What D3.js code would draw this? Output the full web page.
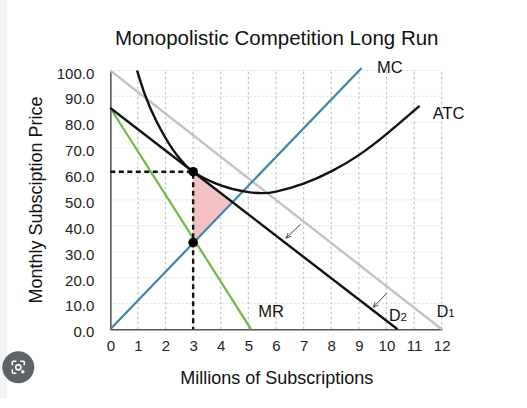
<!DOCTYPE html>
<html><head><meta charset="utf-8">
<script src="https://cdn.jsdelivr.net/npm/d3@7"></script>
<style>body{margin:0;background:#fff;} svg{display:block;font-family:"Liberation Sans",Arial,sans-serif;}</style>
</head><body>
<svg id="c" width="527" height="408"></svg>
<script>
// ---- data ----
const xTicks = [0,1,2,3,4,5,6,7,8,9,10,11,12];
const yTicks = [0,10,20,30,40,50,60,70,80,90,100];
const demand1 = [[0,100],[12,0]];
const demand2 = [[0,85.5],[10.4,0]];
const mr = [[0,85.5],[5.1,0]];
const mc = [[0,0],[9.1,101]];
const atc = [[0.97,100],[1.26,90.5],[1.68,80.2],[2.26,69.5],[2.64,64.4],[3,60.9],[4,55.6],[5,53],[5.5,52.6],[6,53.2],[7,56.3],[8,61],[9,67.3],[10,75.4],[11.2,86.3]];
const eqTop = [3,60.9];
const eqBottom = [3,33.5];
const arrows = [[[6.89,40.6],[6.36,35.2]],[[10.01,13.9],[9.52,8.5]]];
const title = "Monopolistic Competition Long Run";
const xTitle = "Millions of Subscriptions";
const yTitle = "Monthly Subsciption Price";

const svg = d3.select("#c");
const x = d3.scaleLinear().domain([0,12]).range([110.3,441.7]);
const y = d3.scaleLinear().domain([0,100]).range([329.3,70.5]);

// background strip & icon (screenshot chrome)
svg.append("rect").attr("x",0).attr("y",0).attr("width",7).attr("height",398).attr("fill","#f1f3f4");
const ic = svg.append("g").attr("transform","translate(18.3,367.3)");
ic.append("circle").attr("r",16).attr("fill","#5f6368");
ic.append("path").attr("d","M-6,-2 V-5 Q-6,-6 -5,-6 H-2 M2,-6 H5 Q6,-6 6,-5 V-2 M-6,2 V5 Q-6,6 -5,6 H-2")
  .attr("fill","none").attr("stroke","#fff").attr("stroke-width",1.6);
ic.append("circle").attr("r",2.6).attr("fill","none").attr("stroke","#fff").attr("stroke-width",1.6);
ic.append("circle").attr("cx",4.5).attr("cy",4.5).attr("r",1.8).attr("fill","#fff");

// grid
svg.append("g").selectAll("line").data(yTicks.filter(d=>d>0)).join("line")
  .attr("x1",x(0)).attr("x2",x(12)).attr("y1",d=>y(d)).attr("y2",d=>y(d))
  .attr("stroke","#dedede").attr("stroke-width",1).attr("stroke-dasharray","2,2");
svg.append("g").selectAll("line").data(xTicks.filter(d=>d>0)).join("line")
  .attr("x1",d=>x(d)).attr("x2",d=>x(d)).attr("y1",y(0)).attr("y2",y(100))
  .attr("stroke","#c4c4c4").attr("stroke-width",1.2).attr("stroke-dasharray","2.5,2.5");

// axes
const xAxis = d3.axisBottom(x).tickValues(xTicks).tickSize(0).tickPadding(11).tickFormat(d3.format("d"));
const gx = svg.append("g").attr("transform",`translate(0,${y(0)})`).call(xAxis);
gx.select(".domain").attr("stroke","#555").attr("stroke-width",1.6);
gx.selectAll("text").attr("font-size",15).attr("fill","#222").attr("font-family","Liberation Sans, Arial, sans-serif");
const yAxis = d3.axisLeft(y).tickValues(yTicks).tickSize(0).tickPadding(16).tickFormat(d3.format(".1f"));
const gy = svg.append("g").attr("transform",`translate(${x(0)},0)`).call(yAxis);
gy.select(".domain").attr("stroke","#555").attr("stroke-width",1.6);
gy.selectAll("text").attr("font-size",15).attr("fill","#222").attr("dy","0.5em").attr("font-family","Liberation Sans, Arial, sans-serif");

// shaded triangle: MC ∩ D2
const s2 = (demand2[1][1]-demand2[0][1])/(demand2[1][0]-demand2[0][0]);
const smc = (mc[1][1]-mc[0][1])/(mc[1][0]-mc[0][0]);
const qi = (demand2[0][1]-mc[0][1])/(smc - s2);
const tri = [eqTop, eqBottom, [qi, smc*qi]];
svg.append("path").attr("d", d3.line().x(d=>x(d[0])).y(d=>y(d[1]))(tri)+"Z").attr("fill","#f4c2c2");

const line = d3.line().x(d=>x(d[0])).y(d=>y(d[1]));
function draw(data,color,w){ svg.append("path").attr("d",line(data)).attr("fill","none").attr("stroke",color).attr("stroke-width",w); }
draw(demand1,"#c3c3c3",2.4);
draw(mc,"#3a86ad",2.2);
draw(mr,"#69bd3f",2.2);
draw(demand2,"#111",2.4);
svg.append("path").attr("d",d3.line().curve(d3.curveNatural).x(d=>x(d[0])).y(d=>y(d[1]))(atc))
  .attr("fill","none").attr("stroke","#111").attr("stroke-width",2.4);

// dashed guides
svg.append("path").attr("d",line([[0,eqTop[1]],eqTop,[eqTop[0],0]])).attr("fill","none")
  .attr("stroke","#111").attr("stroke-width",2.4).attr("stroke-dasharray","5,3.5");

// points
svg.selectAll("circle.pt").data([eqTop,eqBottom]).join("circle").attr("class","pt")
  .attr("cx",d=>x(d[0])).attr("cy",d=>y(d[1])).attr("r",4.8).attr("fill","#000");

// arrows
const defs = svg.append("defs");
defs.append("marker").attr("id","ah").attr("viewBox","0 0 10 10").attr("refX",9).attr("refY",5)
  .attr("markerWidth",6).attr("markerHeight",6).attr("orient","auto")
  .append("path").attr("d","M0,1 L9,5 L0,9").attr("fill","none").attr("stroke","#444").attr("stroke-width",1.4);
svg.selectAll("line.arr").data(arrows).join("line").attr("class","arr")
  .attr("x1",d=>x(d[0][0])).attr("y1",d=>y(d[0][1])).attr("x2",d=>x(d[1][0])).attr("y2",d=>y(d[1][1]))
  .attr("stroke","#444").attr("stroke-width",1).attr("marker-end","url(#ah)");

// labels
svg.append("text").attr("x",276.7).attr("y",45).attr("text-anchor","middle").attr("font-size",20.5).attr("fill","#111").text(title);
svg.append("text").attr("x",276.7).attr("y",384).attr("text-anchor","middle").attr("font-size",18).attr("fill","#111").text(xTitle);
svg.append("text").attr("transform","translate(41.5,200) rotate(-90)").attr("text-anchor","middle").attr("font-size",18).attr("fill","#111").text(yTitle);
svg.append("text").attr("x",377).attr("y",73.3).attr("font-size",16.5).attr("fill","#111").text("MC");
svg.append("text").attr("x",432.7).attr("y",119).attr("font-size",16.5).attr("fill","#111").text("ATC");
svg.append("text").attr("x",258.3).attr("y",316.7).attr("font-size",16.5).attr("fill","#111").text("MR");
const d2 = svg.append("text").attr("x",389).attr("y",320.5).attr("font-size",16).attr("fill","#111");
d2.append("tspan").text("D"); d2.append("tspan").attr("font-size",11.5).text("2");
const d1 = svg.append("text").attr("x",436.7).attr("y",316.7).attr("font-size",16).attr("fill","#111");
d1.append("tspan").text("D"); d1.append("tspan").attr("font-size",11.5).text("1");
</script>
</body></html>
